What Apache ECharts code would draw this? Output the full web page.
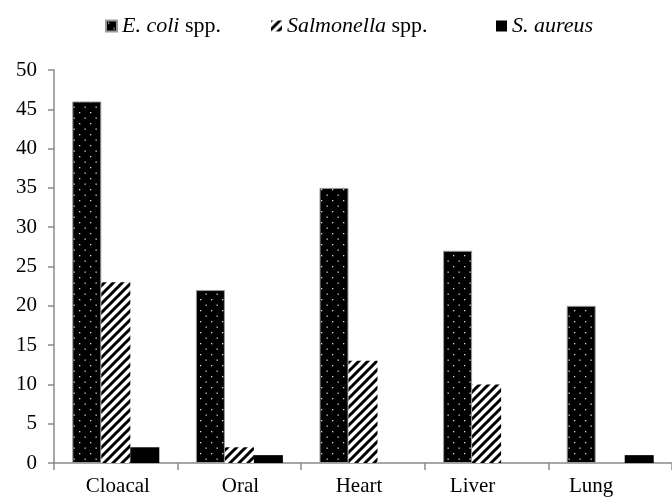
<!DOCTYPE html>
<html>
<head>
<meta charset="utf-8">
<script src="https://cdn.jsdelivr.net/npm/echarts@6/dist/echarts.min.js"></script>
<style>
html,body{margin:0;padding:0;background:#fff;}
#c{width:672px;height:497px;}
</style>
</head>
<body>
<div id="c"></div>
<script>
// ---- data ----
var categories = ['Cloacal', 'Oral', 'Heart', 'Liver', 'Lung'];
var ecoli = [46, 22, 35, 27, 20];
var salmonella = [23, 2, 13, 10, 0];
var saureus = [2, 1, 0, 0, 1];
var yTicks = [0, 5, 10, 15, 20, 25, 30, 35, 40, 45, 50];

// ---- patterns ----
function dotPattern() {
  var c = document.createElement('canvas');
  c.width = 11; c.height = 11;
  var g = c.getContext('2d');
  g.fillStyle = '#000'; g.fillRect(0, 0, 11, 11);
  g.fillStyle = '#d8d8d8';
  g.fillRect(2, 2, 1.3, 1.3);
  g.fillRect(7.5, 7.5, 1.3, 1.3);
  return { image: c, repeat: 'repeat' };
}
function hatchPattern() {
  var s = 9;
  var c = document.createElement('canvas');
  c.width = s; c.height = s;
  var g = c.getContext('2d');
  g.fillStyle = '#fff'; g.fillRect(0, 0, s, s);
  g.strokeStyle = '#000'; g.lineWidth = 3;
  g.beginPath();
  // lines x + y = 0, s, 2s  ("/" direction)
  g.moveTo(-s, s); g.lineTo(s, -s);
  g.moveTo(-s, 2 * s); g.lineTo(2 * s, -s);
  g.moveTo(0, 2 * s); g.lineTo(2 * s, 0);
  g.stroke();
  return { image: c, repeat: 'repeat' };
}

var FONT = 'Liberation Serif';
var chart = echarts.init(document.getElementById('c'));

var labelShift = { Cloacal: 2, Oral: 1, Heart: -4, Liver: -14, Lung: -19 };
var rich = {};
categories.forEach(function (name, i) {
  var s = labelShift[name] || 0;
  rich['c' + i] = {
    fontFamily: FONT, fontSize: 21, color: '#000',
    padding: s < 0 ? [0, -2 * s, 0, 0] : [0, 0, 0, 2 * s]
  };
});

var legendRich = {
  i: { fontFamily: FONT, fontSize: 22, fontStyle: 'italic', color: '#000' },
  n: { fontFamily: FONT, fontSize: 22, color: '#000' }
};
function legendBox(name, left) {
  return {
    data: [name], left: left, top: 10, icon: 'rect',
    itemWidth: 11, itemHeight: 11, itemGap: 0,
    textStyle: { rich: legendRich, fontFamily: FONT, fontSize: 22 },
    formatter: function (n) {
      if (n === 'E. coli spp.') return '{i|E. coli} {n|spp.}';
      if (n === 'Salmonella spp.') return '{i|Salmonella} {n|spp.}';
      return '{i|' + n + '}';
    },
    selectedMode: false
  };
}

chart.setOption({
  animation: false,
  backgroundColor: '#fff',
  legend: [
    legendBox('E. coli spp.', 100),
    legendBox('Salmonella spp.', 266),
    legendBox('S. aureus', 491)
  ],
  grid: { left: 54, top: 70, width: 625, bottom: 29, containLabel: false },
  xAxis: {
    type: 'category',
    data: categories,
    boundaryGap: true,
    axisLine: { lineStyle: { color: '#8a8a8a', width: 1.5 } },
    axisTick: { show: true, interval: 0, length: 7, alignWithLabel: false, lineStyle: { color: '#8a8a8a', width: 1.5 } },
    axisLabel: {
      interval: 0,
      margin: 13,
      formatter: function (v) { return '{c' + categories.indexOf(v) + '|' + v + '}'; },
      rich: rich,
      fontFamily: FONT, fontSize: 21, color: '#000'
    },
    splitLine: { show: false }
  },
  yAxis: {
    type: 'value',
    min: yTicks[0], max: yTicks[yTicks.length - 1], interval: 5,
    axisLine: { show: true, lineStyle: { color: '#8a8a8a', width: 1.5 } },
    axisTick: { show: true, length: 6, lineStyle: { color: '#8a8a8a', width: 1.5 } },
    axisLabel: { margin: 17, fontFamily: FONT, fontSize: 21, color: '#000' },
    splitLine: { show: false }
  },
  series: [
    {
      name: 'E. coli spp.', type: 'bar', data: ecoli,
      barWidth: 29, barGap: '0%',
      itemStyle: { color: dotPattern(), borderColor: '#9a9a9a', borderWidth: 1 }
    },
    {
      name: 'Salmonella spp.', type: 'bar', data: salmonella,
      barWidth: 29, barGap: '0%',
      itemStyle: { color: hatchPattern() }
    },
    {
      name: 'S. aureus', type: 'bar', data: saureus,
      barWidth: 29, barGap: '0%',
      itemStyle: { color: '#000' }
    }
  ]
});
</script>
</body>
</html>
